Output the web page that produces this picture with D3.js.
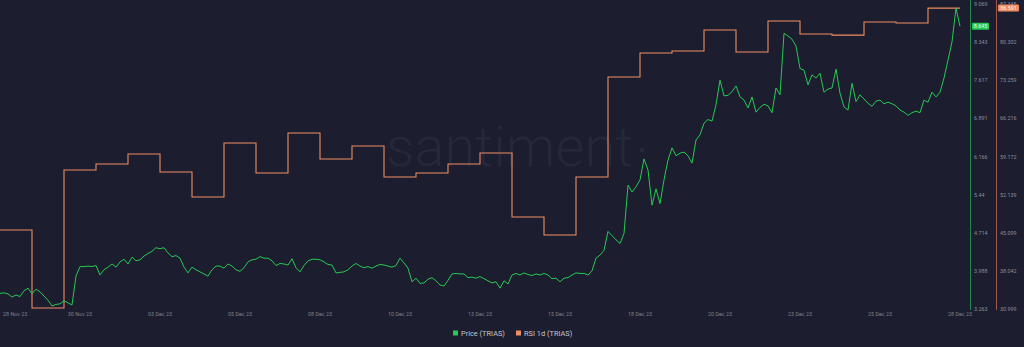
<!DOCTYPE html>
<html>
<head>
<meta charset="utf-8">
<title>Price (TRIAS) and RSI 1d (TRIAS)</title>
<script src="https://cdn.jsdelivr.net/npm/d3@7"></script>
<style>
  html, body { margin: 0; padding: 0; background: #1c1d2e; }
  svg { display: block; }
  text { font-family: Roboto, "Open Sans", sans-serif; }
</style>
</head>
<body>
<svg id="chart" width="1024" height="347"></svg>
<script>
// price, one value every 3 hours from 28 Nov 23 00:00
var priceStart = "2023-11-28T00:00";
var priceStepHours = 3;
var prices = [
  3.56,3.57,3.55,3.49,3.53,3.50,3.61,3.66,3.55,3.64,
  3.59,3.51,3.43,3.32,3.35,3.36,3.42,3.38,3.34,3.89,
  4.07,4.07,4.08,4.07,4.09,3.91,4.01,4.06,4.12,4.06,
  4.16,4.21,4.12,4.25,4.18,4.20,4.27,4.32,4.36,4.43,
  4.41,4.43,4.33,4.26,4.28,4.23,4.06,3.95,4.06,4.01,
  3.97,3.93,3.89,4.01,4.08,4.08,4.04,4.12,4.08,4.01,
  3.98,4.05,4.16,4.20,4.21,4.26,4.23,4.23,4.18,4.09,
  4.13,4.12,4.10,4.22,4.05,3.97,4.09,4.18,4.21,4.21,
  4.20,4.16,4.11,4.10,3.95,3.96,3.97,4.01,4.08,4.13,
  4.08,4.05,4.07,4.04,4.08,4.11,4.10,4.08,
  4.06,4.09,4.23,4.14,4.04,3.78,3.85,3.75,3.76,3.83,
  3.86,3.80,3.72,3.70,3.81,3.93,3.94,3.93,3.93,3.86,
  3.87,3.85,3.88,3.84,3.80,3.76,3.78,3.66,3.80,3.74,
  3.91,3.94,3.91,3.95,3.92,3.90,3.93,3.91,3.94,3.91,
  3.84,3.85,3.78,3.85,3.86,3.91,3.95,
  3.94,3.94,3.91,3.99,4.23,4.29,4.38,4.74,4.66,4.58,
  4.51,4.70,5.62,5.49,5.59,5.72,6.12,5.91,5.24,5.55,
  5.27,5.72,6.10,6.33,6.18,6.23,6.25,6.18,6.04,6.48,
  6.58,6.80,6.87,6.84,7.15,7.62,7.32,7.33,7.40,7.51,
  7.30,7.24,7.09,7.30,7.01,7.10,7.16,7.13,
  7.00,7.47,7.34,8.51,8.46,8.40,8.27,7.84,7.81,7.53,
  7.72,7.66,7.75,7.39,7.45,7.47,7.83,7.37,7.11,7.05,
  7.56,7.21,7.34,7.26,7.18,7.12,7.22,7.24,7.17,7.20,
  7.17,7.13,7.05,7.01,6.95,7.00,7.03,7.00,7.24,7.20,
  7.39,7.30,7.39,7.66,8.00,8.35,8.99,8.645
];

// daily RSI, 28 Nov 23 .. 27 Dec 23
var rsiStart = "2023-11-28T00:00";
var rsiValues = [
  45.59,31.18,56.68,57.79,59.63,56.31,51.69,61.67,56.12,63.51,
  58.71,61.11,55.39,56.12,57.79,59.82,48.00,44.67,55.39,73.86,
  78.29,78.66,82.54,78.48,84.21,81.80,81.60,84.02,83.84,86.591
];

var priceTicks = ["3.263","3.988","4.714","5.44","6.166","6.891","7.617","8.343","9.069"];
var rsiTicks = ["30.999","38.042","45.099","52.139","59.172","66.216","73.259","80.302","87.345"];
var dateTickStepDays = 2.5;
var dateTickCount = 13;
var legendLabels = ["Price (TRIAS)", "RSI 1d (TRIAS)"];

var green = "#26c953", orange = "#f08c62";
var svg = d3.select("#chart");
var parse = d3.timeParse("%Y-%m-%dT%H:%M");
var hour = 3600 * 1000, day = 24 * hour;

var t0 = parse(priceStart);
var priceData = prices.map(function(v, i) {
  return { t: new Date(+t0 + i * priceStepHours * hour), v: v };
});
var r0 = parse(rsiStart);
var rsiData = rsiValues.map(function(v, i) {
  return { t: new Date(+r0 + i * day), v: v };
});
// last daily value runs to the end of its day
rsiData.push({ t: new Date(+r0 + rsiValues.length * day), v: rsiValues[rsiValues.length - 1] });

var x = d3.scaleTime()
  .domain([t0, new Date(+t0 + 30.3125 * day)])
  .range([0, 970]);
var yPrice = d3.scaleLinear()
  .domain([+priceTicks[0], +priceTicks[priceTicks.length - 1]])
  .range([309, 4]);
var yRsi = d3.scaleLinear()
  .domain([+rsiTicks[0], +rsiTicks[rsiTicks.length - 1]])
  .range([309, 4]);

svg.append("rect").attr("width", 1024).attr("height", 347).attr("fill", "#1c1d2e");

// watermark
svg.append("text")
  .attr("x", 386).attr("y", 166)
  .attr("font-size", 56).attr("font-weight", 300)
  .attr("fill", "#25273a")
  .text("santiment");
svg.append("circle").attr("cx", 642).attr("cy", 150).attr("r", 2.5).attr("fill", "#25273a");

// date axis
var dateTicks = d3.range(dateTickCount).map(function(i) {
  return new Date(+t0 + i * dateTickStepDays * day);
});
var fmtDate = d3.timeFormat("%d %b %y");
svg.append("g").selectAll("text")
  .data(dateTicks)
  .join("text")
  .attr("x", function(d, i) { return i === 0 ? 3 : x(d); })
  .attr("y", 316)
  .attr("text-anchor", function(d, i) { return i === 0 ? "start" : "middle"; })
  .attr("font-size", 5.4)
  .attr("fill", "#7b8091")
  .text(fmtDate);

// lines
var rsiLine = d3.line()
  .curve(d3.curveStepAfter)
  .x(function(d) { return x(d.t); })
  .y(function(d) { return yRsi(d.v); });
svg.append("path")
  .datum(rsiData)
  .attr("d", rsiLine)
  .attr("fill", "none")
  .attr("stroke", orange)
  .attr("stroke-width", 1.1);

var priceLine = d3.line()
  .x(function(d) { return x(d.t); })
  .y(function(d) { return yPrice(d.v); });
svg.append("path")
  .datum(priceData)
  .attr("d", priceLine)
  .attr("fill", "none")
  .attr("stroke", green)
  .attr("stroke-width", 1)
  .attr("stroke-linejoin", "round");

// right axes
svg.append("line").attr("x1", 970.5).attr("x2", 970.5).attr("y1", 0).attr("y2", 310)
  .attr("stroke", "#23864a").attr("stroke-width", 1);
svg.append("line").attr("x1", 996.5).attr("x2", 996.5).attr("y1", 0).attr("y2", 310)
  .attr("stroke", "#a0584a").attr("stroke-width", 1);

svg.append("g").selectAll("text")
  .data(priceTicks)
  .join("text")
  .attr("x", 974)
  .attr("y", function(d) { return yPrice(+d) + 2; })
  .attr("font-size", 5.4)
  .attr("fill", "#8a8fa0")
  .text(function(d) { return d; });
svg.append("g").selectAll("text")
  .data(rsiTicks)
  .join("text")
  .attr("x", 1000)
  .attr("y", function(d) { return yRsi(+d) + 2; })
  .attr("font-size", 5.4)
  .attr("fill", "#8a8fa0")
  .text(function(d) { return d; });

// last-value badges
var fmt3 = d3.format(".3f");
var lastPrice = prices[prices.length - 1];
var lastRsi = rsiValues[rsiValues.length - 1];
var pb = yPrice(lastPrice);
svg.append("rect").attr("x", 972).attr("y", pb - 3.5).attr("width", 17).attr("height", 7)
  .attr("rx", 1).attr("fill", green);
svg.append("text").attr("x", 980.5).attr("y", pb + 2).attr("text-anchor", "middle")
  .attr("font-size", 5.4).attr("fill", "#eaffef").text(fmt3(lastPrice));
var rb = yRsi(lastRsi);
svg.append("rect").attr("x", 998).attr("y", rb - 3.5).attr("width", 21).attr("height", 7)
  .attr("rx", 1).attr("fill", orange);
svg.append("text").attr("x", 1008.5).attr("y", rb + 2).attr("text-anchor", "middle")
  .attr("font-size", 5.4).attr("fill", "#fff3ee").text(fmt3(lastRsi));

// legend
var legendColors = [green, orange];
var legendX = [453, 516];
var lg = svg.append("g").selectAll("g")
  .data(legendLabels)
  .join("g")
  .attr("transform", function(d, i) { return "translate(" + legendX[i] + ",333)"; });
lg.append("rect").attr("x", 0).attr("y", -2.5).attr("width", 5).attr("height", 5)
  .attr("fill", function(d, i) { return legendColors[i]; });
lg.append("text").attr("x", 8).attr("y", 2.7)
  .attr("font-size", 7.4).attr("fill", "#c3c6d0")
  .text(function(d) { return d; });
</script>
</body>
</html>
